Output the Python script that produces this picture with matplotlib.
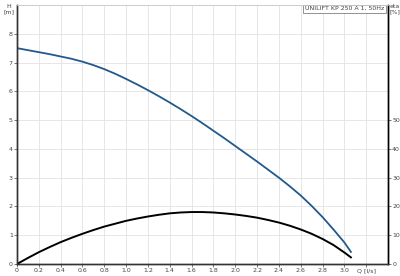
import matplotlib
matplotlib.use('Agg')
import matplotlib.pyplot as plt
import numpy as np

# pump curve data
q = [0.0, 0.1, 0.2, 0.3, 0.4, 0.5, 0.6, 0.7, 0.8, 0.9, 1.0, 1.1, 1.2, 1.3, 1.4, 1.5,
     1.6, 1.7, 1.8, 1.9, 2.0, 2.1, 2.2, 2.3, 2.4, 2.5, 2.6, 2.7, 2.8, 2.9, 3.0, 3.06]
h = [7.5, 7.43, 7.36, 7.29, 7.21, 7.13, 7.03, 6.91, 6.77, 6.61, 6.43, 6.24, 6.04, 5.83,
     5.61, 5.38, 5.14, 4.89, 4.63, 4.37, 4.10, 3.83, 3.56, 3.28, 3.0, 2.7, 2.38, 2.02,
     1.63, 1.2, 0.75, 0.42]
eta = [0.0, 2.1, 4.1, 5.9, 7.6, 9.1, 10.5, 11.8, 13.0, 14.0, 15.0, 15.8, 16.5, 17.1,
       17.6, 17.9, 18.05, 18.05, 17.9, 17.6, 17.2, 16.7, 16.1, 15.3, 14.4, 13.3, 12.0,
       10.5, 8.7, 6.6, 4.0, 2.3]

xticks = [0.0, 0.2, 0.4, 0.6, 0.8, 1.0, 1.2, 1.4, 1.6, 1.8, 2.0, 2.2, 2.4, 2.6, 2.8, 3.0, 3.2]
xlabels = ['0', '0.2', '0.4', '0.6', '0.8', '1.0', '1.2', '1.4', '1.6', '1.8',
           '2.0', '2.2', '2.4', '2.6', '2.8', '3.0', 'Q [l/s]']
hticks = [0, 1, 2, 3, 4, 5, 6, 7, 8]
etaticks = [0, 10, 20, 30, 40, 50]

fig = plt.figure(figsize=(4, 2.76), dpi=100)
ax = fig.add_axes([0.0425, 0.0435, 0.9275, 0.9385])
ax2 = ax.twinx()

ax.plot(q, h, color='#22598c', lw=1.3, solid_joinstyle='round')
ax2.plot(q, eta, color='black', lw=1.4, solid_joinstyle='round')

ax.set_xlim(0, 3.4)
ax.set_ylim(0, 9)
ax2.set_ylim(0, 90)

ax.set_xticks(xticks)
ax.set_xticklabels(xlabels)
ax.set_yticks(hticks)
ax2.set_yticks(etaticks)

ax.grid(True, color='#e2e2e2', lw=0.6)
ax.set_axisbelow(True)

for a in (ax, ax2):
    a.tick_params(labelsize=4.5, colors='#444444', length=2, width=0.5, pad=1)
    for s in a.spines.values():
        s.set_color('#cccccc')
        s.set_linewidth(0.6)
for a in (ax, ax2):
    a.spines['left'].set_color('#333333')
    a.spines['bottom'].set_color('#333333')
    a.spines['right'].set_color('black')
    a.spines['left'].set_linewidth(1.0)
    a.spines['bottom'].set_linewidth(1.0)
    a.spines['right'].set_linewidth(1.0)

fig.text(0.022, 0.985, 'H\n[m]', fontsize=4.5, color='#444444', ha='center', va='top',
         linespacing=1.0)
fig.text(0.975, 0.985, 'eta\n[%]', fontsize=4.5, color='#444444', ha='left', va='top',
         linespacing=1.0)
ax.text(0.99, 0.995, 'UNILIFT KP 250 A 1, 50Hz', transform=ax.transAxes, fontsize=4.5,
        color='#444444', ha='right', va='top',
        bbox=dict(boxstyle='square,pad=0.25', fc='white', ec='#666666', lw=0.5))

fig.savefig('out.png', dpi=100)
